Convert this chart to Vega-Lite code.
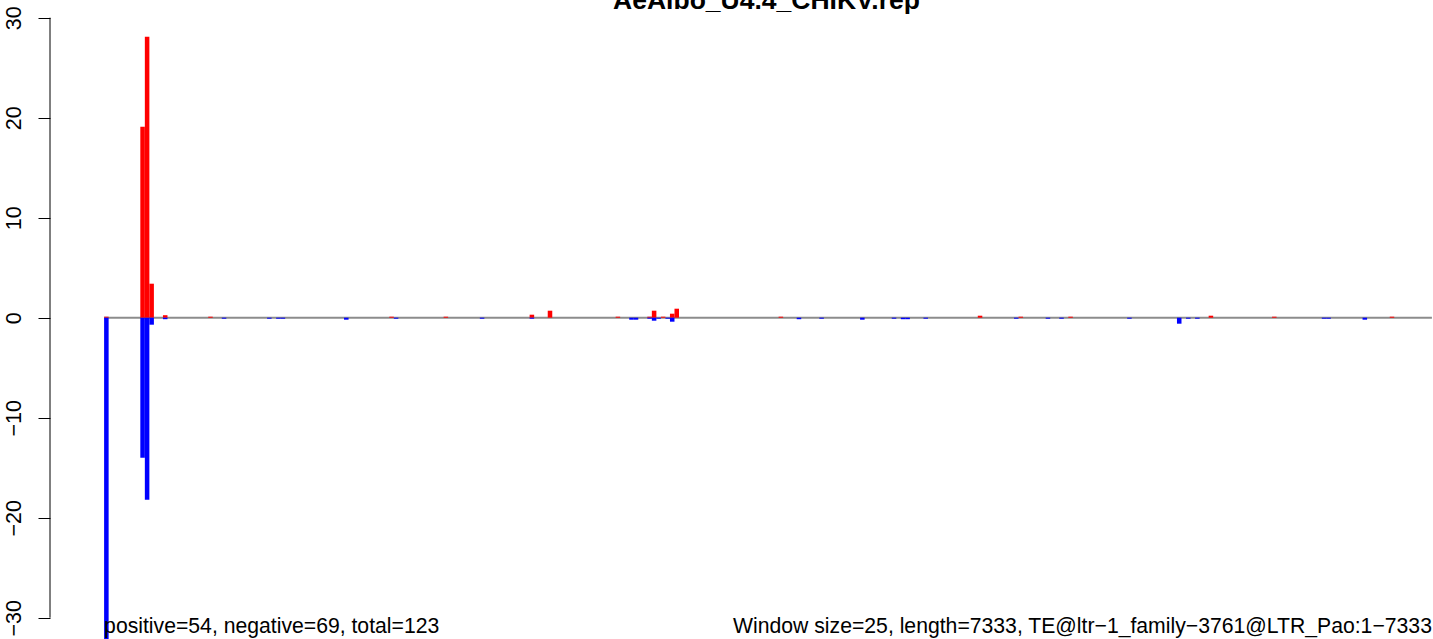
{
  "$schema": "https://vega.github.io/schema/vega-lite/v6.json",
  "autosize": {"type": "none"},
  "padding": {"left": 50, "top": 0, "right": 0, "bottom": 0},
  "width": 1383,
  "height": 639,
  "background": "white",
  "title": {
    "text": "AeAlbo_U4.4_CHIKV.rep",
    "font": "Liberation Sans",
    "fontSize": 26.5,
    "fontWeight": "bold",
    "color": "black",
    "anchor": "middle",
    "dx": 25,
    "offset": -14.3
  },
  "config": {"view": {"stroke": null}},
  "datasets": {
    "bins": [
      {"start": 0, "end": 25, "strand": "plus", "count": 0.1},
      {"start": 0, "end": 25, "strand": "minus", "count": -35},
      {"start": 200, "end": 225, "strand": "plus", "count": 19.1},
      {"start": 200, "end": 225, "strand": "minus", "count": -14.0},
      {"start": 225, "end": 250, "strand": "plus", "count": 28.1},
      {"start": 225, "end": 250, "strand": "minus", "count": -18.2},
      {"start": 250, "end": 275, "strand": "plus", "count": 3.4},
      {"start": 250, "end": 275, "strand": "minus", "count": -0.7},
      {"start": 325, "end": 350, "strand": "plus", "count": 0.25},
      {"start": 325, "end": 350, "strand": "minus", "count": -0.15},
      {"start": 575, "end": 600, "strand": "plus", "count": 0.1},
      {"start": 650, "end": 675, "strand": "minus", "count": -0.1},
      {"start": 900, "end": 925, "strand": "minus", "count": -0.1},
      {"start": 950, "end": 975, "strand": "minus", "count": -0.1},
      {"start": 975, "end": 1000, "strand": "minus", "count": -0.1},
      {"start": 1325, "end": 1350, "strand": "minus", "count": -0.2},
      {"start": 1575, "end": 1600, "strand": "plus", "count": 0.1},
      {"start": 1600, "end": 1625, "strand": "minus", "count": -0.1},
      {"start": 1875, "end": 1900, "strand": "plus", "count": 0.1},
      {"start": 2075, "end": 2100, "strand": "minus", "count": -0.1},
      {"start": 2350, "end": 2375, "strand": "plus", "count": 0.3},
      {"start": 2350, "end": 2375, "strand": "minus", "count": -0.1},
      {"start": 2450, "end": 2475, "strand": "plus", "count": 0.7},
      {"start": 2825, "end": 2850, "strand": "plus", "count": 0.1},
      {"start": 2900, "end": 2925, "strand": "minus", "count": -0.2},
      {"start": 2925, "end": 2950, "strand": "minus", "count": -0.2},
      {"start": 3000, "end": 3025, "strand": "plus", "count": 0.1},
      {"start": 3000, "end": 3025, "strand": "minus", "count": -0.1},
      {"start": 3025, "end": 3050, "strand": "plus", "count": 0.7},
      {"start": 3025, "end": 3050, "strand": "minus", "count": -0.3},
      {"start": 3050, "end": 3075, "strand": "minus", "count": -0.1},
      {"start": 3075, "end": 3100, "strand": "plus", "count": 0.1},
      {"start": 3100, "end": 3125, "strand": "minus", "count": -0.1},
      {"start": 3125, "end": 3150, "strand": "plus", "count": 0.4},
      {"start": 3125, "end": 3150, "strand": "minus", "count": -0.4},
      {"start": 3150, "end": 3175, "strand": "plus", "count": 0.9},
      {"start": 3725, "end": 3750, "strand": "plus", "count": 0.1},
      {"start": 3825, "end": 3850, "strand": "minus", "count": -0.15},
      {"start": 3950, "end": 3975, "strand": "minus", "count": -0.1},
      {"start": 4175, "end": 4200, "strand": "minus", "count": -0.2},
      {"start": 4350, "end": 4375, "strand": "minus", "count": -0.1},
      {"start": 4400, "end": 4425, "strand": "minus", "count": -0.15},
      {"start": 4425, "end": 4450, "strand": "minus", "count": -0.15},
      {"start": 4525, "end": 4550, "strand": "minus", "count": -0.1},
      {"start": 4825, "end": 4850, "strand": "plus", "count": 0.2},
      {"start": 5025, "end": 5050, "strand": "minus", "count": -0.1},
      {"start": 5050, "end": 5075, "strand": "plus", "count": 0.1},
      {"start": 5200, "end": 5225, "strand": "minus", "count": -0.1},
      {"start": 5275, "end": 5300, "strand": "minus", "count": -0.1},
      {"start": 5325, "end": 5350, "strand": "plus", "count": 0.1},
      {"start": 5650, "end": 5675, "strand": "minus", "count": -0.1},
      {"start": 5925, "end": 5950, "strand": "minus", "count": -0.6},
      {"start": 5975, "end": 6000, "strand": "minus", "count": -0.1},
      {"start": 6025, "end": 6050, "strand": "minus", "count": -0.1},
      {"start": 6100, "end": 6125, "strand": "plus", "count": 0.2},
      {"start": 6450, "end": 6475, "strand": "plus", "count": 0.1},
      {"start": 6725, "end": 6750, "strand": "minus", "count": -0.1},
      {"start": 6750, "end": 6775, "strand": "minus", "count": -0.1},
      {"start": 6950, "end": 6975, "strand": "minus", "count": -0.2},
      {"start": 7100, "end": 7125, "strand": "plus", "count": 0.1}
    ]
  },
  "layer": [
    {
      "data": {"values": [{}]},
      "mark": {"type": "rule", "color": "#8c8c8c", "strokeWidth": 2},
      "encoding": {
        "x": {"datum": 0, "type": "quantitative", "scale": {"domain": [-298.8, 7339], "nice": false, "zero": false}, "axis": null},
        "x2": {"datum": 7333},
        "y": {"datum": 0, "type": "quantitative"}
      }
    },
    {
      "data": {"name": "bins"},
      "mark": {"type": "bar", "clip": true},
      "encoding": {
        "x": {"field": "start", "type": "quantitative", "scale": {"domain": [-298.8, 7339], "nice": false, "zero": false}, "axis": null},
        "x2": {"field": "end"},
        "y": {
          "field": "count",
          "type": "quantitative",
          "stack": null,
          "scale": {"domain": [-32.13, 31.77], "nice": false, "zero": false},
          "axis": {
            "values": [-30, -20, -10, 0, 10, 20, 30],
            "domain": false,
            "grid": false,
            "ticks": true,
            "tickSize": 12,
            "tickColor": "black",
            "tickWidth": 1,
            "labelAngle": -90,
            "labelAlign": "center",
            "labelBaseline": "bottom",
            "labelPadding": 13,
            "labelFont": "Liberation Sans",
            "labelFontSize": 21.5,
            "labelColor": "black",
            "labelFlush": false,
            "labelOverlap": false,
            "title": null
          }
        },
        "y2": {"datum": 0},
        "color": {
          "field": "strand",
          "type": "nominal",
          "scale": {"domain": ["plus", "minus"], "range": ["#FF0000", "#0000FF"]},
          "legend": null
        }
      }
    },
    {
      "data": {"values": [{}]},
      "mark": {"type": "rule", "color": "black", "strokeWidth": 1},
      "encoding": {
        "x": {"datum": -298.8, "type": "quantitative"},
        "y": {"datum": -30, "type": "quantitative"},
        "y2": {"datum": 30}
      }
    },
    {
      "data": {"values": [{}]},
      "mark": {"type": "text", "align": "left", "baseline": "alphabetic", "font": "Liberation Sans", "fontSize": 21.2, "color": "black", "text": "positive=54, negative=69, total=123"},
      "encoding": {
        "x": {"datum": 0, "type": "quantitative"},
        "y": {"datum": -31.55, "type": "quantitative"}
      }
    },
    {
      "data": {"values": [{}]},
      "mark": {"type": "text", "align": "right", "baseline": "alphabetic", "font": "Liberation Sans", "fontSize": 21.2, "color": "black", "text": "Window size=25, length=7333, TE@ltr−1_family−3761@LTR_Pao:1−7333"},
      "encoding": {
        "x": {"datum": 7333, "type": "quantitative"},
        "y": {"datum": -31.55, "type": "quantitative"}
      }
    }
  ]
}
